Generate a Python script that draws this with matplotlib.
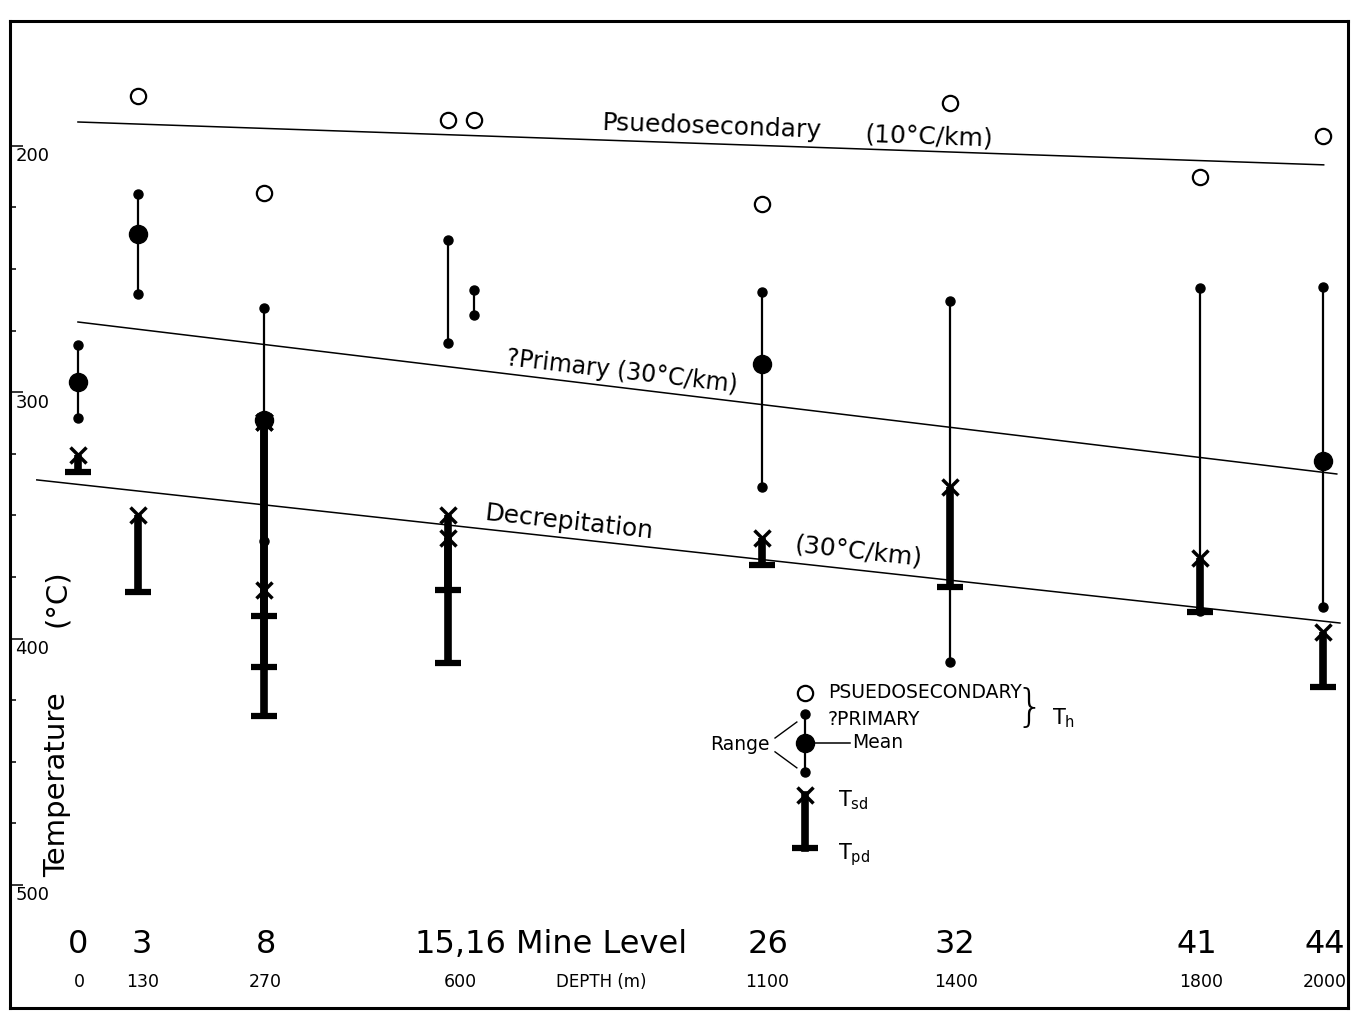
import numpy as np
import matplotlib
matplotlib.use("Agg")
import matplotlib.pyplot as plt
from matplotlib.ticker import FixedLocator

# mine levels, plotted at their depth position (m) as drawn
levels = ['0', '3', '8', '15', '16', '26', '32', '41', '44']
level_x = [0, 96, 298, 593, 636, 1097, 1399, 1800, 1997]

# homogenisation temperatures (Th, deg C)
psec_th = [np.nan, 179.7, 219.1, 189.4, 189.4, 223.5, 182.5, 212.6, 196.0]
prim_min = [280.8, 219.5, 265.8, 238.2, 258.5, 259.3, 262.9, 257.7, 257.2]
prim_max = [310.4, 260.1, 360.4, 280.0, 268.6, 338.4, 409.5, 389.0, 387.2]
prim_mean = [295.8, 235.7, 311.2, np.nan, np.nan, 288.5, np.nan, np.nan, 327.9]

# decrepitation: start (Tsd) and peak (Tpd) per sample
dec_level = ['0', '3', '8', '8', '8', '15', '15', '26', '32', '41', '44']
dec_tsd = [325.5, 349.8, 312.1, 312.1, 380.3, 349.8, 359.2, 359.2, 338.4, 367.3, 397.3]
dec_tpd = [332.4, 381.1, 390.8, 411.5, 431.4, 380.3, 409.9, 370.1, 379.0, 389.2, 419.6]

# gradient lines (depth m, temperature)
psec_line_x = [0, 1998]
psec_line_t = [190.3, 207.7]
prim_line_x = [0, 2019]
prim_line_t = [271.5, 333.2]
dec_line_x = [-66, 2024]
dec_line_t = [335.6, 393.7]

# bottom labels
level_labels = ['0', '3', '8', '15,16', '26', '32', '41', '44']
level_label_x = [0, 103, 302, 613, 1107, 1407, 1794, 2000]
depth_labels = ['0', '130', '270', '600', '1100', '1400', '1800', '2000']
depth_label_x = [3, 104, 301, 614, 1105, 1408, 1801, 2000]

y_major = [200, 300, 400, 500]
y_minor = [225, 250, 275, 325, 350, 375, 425, 450, 475]

fig = plt.figure(figsize=(13.56, 10.11), dpi=100)
ax = fig.add_axes([10 / 1356, 3 / 1011, 1338 / 1356, 987 / 1011])
ax.set_xlim(-109, 2037)
ax.set_ylim(550, 149.3)

for s in ax.spines.values():
    s.set_linewidth(2.2)

ax.set_xticks([])
ax.yaxis.set_major_locator(FixedLocator(y_major))
ax.yaxis.set_minor_locator(FixedLocator(y_minor))
ax.tick_params(axis='y', which='major', direction='in', length=9, width=1.1, labelleft=False)
ax.tick_params(axis='y', which='minor', direction='in', length=4, width=1.1)
ytr = ax.get_yaxis_transform()
for v in y_major:
    ax.text(0.004, v + 0.6, str(v), transform=ytr, ha='left', va='top', fontsize=13)

ax.text(0.035, 459.4, 'Temperature', transform=ytr, rotation=90, ha='center', va='center', fontsize=21)
ax.text(0.035, 383.5, '(°C)', transform=ytr, rotation=90, ha='center', va='center', fontsize=21)

# gradient lines
for lx, lt in [(psec_line_x, psec_line_t), (prim_line_x, prim_line_t), (dec_line_x, dec_line_t)]:
    ax.plot(lx, lt, color='k', lw=1.1)

ax.text(1017, 192.3, 'Psuedosecondary', rotation=-2, rotation_mode='anchor', ha='center', va='center', fontsize=18)
ax.text(1365, 196.3, '(10°C/km)', rotation=-2, rotation_mode='anchor', ha='center', va='center', fontsize=18)
ax.text(872, 291.8, '?Primary (30°C/km)', rotation=-6.7, rotation_mode='anchor', ha='center', va='center', fontsize=17)
ax.text(787, 352.7, 'Decrepitation', rotation=-6.3, rotation_mode='anchor', ha='center', va='center', fontsize=18)
ax.text(1253, 364.8, '(30°C/km)', rotation=-6.3, rotation_mode='anchor', ha='center', va='center', fontsize=18)

# primary ranges
ax.vlines(level_x, prim_min, prim_max, color='k', lw=1.6)
ax.plot(level_x, prim_min, 'o', color='k', ms=6.5, ls='none')
ax.plot(level_x, prim_max, 'o', color='k', ms=6.5, ls='none')
ax.plot(level_x, prim_mean, 'o', color='k', ms=13, ls='none')

# pseudosecondary
ax.plot(level_x, psec_th, 'o', mfc='white', mec='k', ms=11, mew=1.6, ls='none')

# decrepitation bars
dx = [level_x[levels.index(l)] for l in dec_level]
ax.vlines(dx, dec_tsd, dec_tpd, color='k', lw=5.5)
ax.plot(dx, dec_tsd, 'x', color='k', ms=12, mew=2.5, ls='none')
ax.plot(dx, dec_tpd, '_', color='k', ms=19, mew=4.5, ls='none')

# key
kx = 1166
ax.plot([kx], [422.1], 'o', mfc='white', mec='k', ms=11, mew=1.6)
ax.text(1203, 422.1, 'PSUEDOSECONDARY', ha='left', va='center', fontsize=13.5)
ax.plot([kx, kx], [430.6, 454.2], color='k', lw=1.6)
ax.plot([kx, kx], [430.6, 454.2], 'o', color='k', ms=6.5, ls='none')
ax.plot([kx], [442.4], 'o', color='k', ms=13)
ax.text(1203, 433.0, '?PRIMARY', ha='left', va='center', fontsize=13.5)
ax.plot([kx, 1238], [442.4, 442.4], color='k', lw=1.1)
ax.text(1241, 442.4, 'Mean', ha='left', va='center', fontsize=13.5)
ax.text(1110, 443.2, 'Range', ha='right', va='center', fontsize=13.5)
ax.plot([1118, 1153], [440.4, 433.9], color='k', lw=1.0)
ax.plot([1118, 1153], [446.0, 452.5], color='k', lw=1.0)
ax.text(1526, 428.6, '}', ha='center', va='center', fontsize=32, fontweight='light')
ax.text(1562, 432.2, r'$\mathregular{T_h}$', ha='left', va='center', fontsize=15)
ax.plot([kx, kx], [463.5, 485.0], color='k', lw=5.5)
ax.plot([kx], [463.5], 'x', color='k', ms=12, mew=2.5)
ax.plot([kx], [485.0], '_', color='k', ms=19, mew=4.5)
ax.text(1219, 465.5, r'$\mathregular{T_{sd}}$', ha='left', va='center', fontsize=15)
ax.text(1219, 487.9, r'$\mathregular{T_{pd}}$', ha='left', va='center', fontsize=15)

# bottom labels
for lab, x in zip(level_labels, level_label_x):
    ax.text(x, 524.4, lab, ha='center', va='center', fontsize=23)
ax.text(839, 524.4, 'Mine Level', ha='center', va='center', fontsize=23)
for lab, x in zip(depth_labels, depth_label_x):
    ax.text(x, 539.5, lab, ha='center', va='center', fontsize=12.5)
ax.text(840, 539.5, 'DEPTH (m)', ha='center', va='center', fontsize=12)

fig.savefig('out.png', dpi=100)
